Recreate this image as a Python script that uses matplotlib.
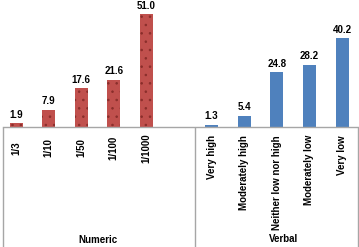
import numpy as np
import matplotlib
matplotlib.use("Agg")
import matplotlib.pyplot as plt
from matplotlib.transforms import blended_transform_factory

# data
numeric_labels = ["1/3", "1/10", "1/50", "1/100", "1/1000"]
numeric_values = [1.9, 7.9, 17.6, 21.6, 51.0]
verbal_labels = ["Very high", "Moderately high", "Neither low nor high", "Moderately low", "Very low"]
verbal_values = [1.3, 5.4, 24.8, 28.2, 40.2]
group_names = ["Numeric", "Verbal"]

RED = "#C0504D"
BLUE = "#4F81BD"
FONT = "Liberation Sans"

plt.rcParams["hatch.linewidth"] = 0.6

W, H = 359, 247
fig = plt.figure(figsize=(W / 100, H / 100), dpi=100)
base_px = 127.5
ax = fig.add_axes([3 / W, (H - base_px) / H, 356 / W, base_px / H])

# numeric group takes slots 0-5 (slot 5 left empty), verbal slots 6-10
x_num = np.arange(len(numeric_values))
x_verb = np.arange(len(verbal_values)) + 6

ax.bar(x_num, numeric_values, width=0.4, color=RED, edgecolor="#8A2E2B",
       linewidth=0, hatch="..")
ax.bar(x_verb, verbal_values, width=0.4, color=BLUE, linewidth=0)

for x, v in zip(list(x_num) + list(x_verb), numeric_values + verbal_values):
    ax.text(x, v + 1.6, f"{v:.1f}", ha="center", va="bottom", fontsize=7,
            fontweight="bold", family=FONT)

ax.set_xlim(-0.4, 10.52)
ax.set_ylim(0, base_px / 2.22)
ax.set_xticks([])
ax.set_yticks([])
for s in ["left", "right", "top"]:
    ax.spines[s].set_visible(False)
ax.spines["bottom"].set_color("#A6A6A6")
ax.spines["bottom"].set_linewidth(1.0)

tr = blended_transform_factory(ax.transData, fig.transFigure)
for x, lab in zip(x_num, numeric_labels):
    ax.text(x, 1 - 148 / H, lab, transform=tr, rotation=90, ha="center", va="center",
            fontsize=7, fontweight="bold", family=FONT)
for x, lab in zip(x_verb, verbal_labels):
    ax.text(x, 1 - 135 / H, lab, transform=tr, rotation=90, ha="center", va="top",
            fontsize=7, fontweight="bold", family=FONT)

ax.text(2.5, 1 - 240 / H, group_names[0], transform=tr, ha="center", va="center",
        fontsize=7, fontweight="bold", family=FONT)
ax.text(8.2, 1 - 239 / H, group_names[1], transform=tr, ha="center", va="center",
        fontsize=7, fontweight="bold", family=FONT)

# group divider lines below the axis
for xd in [-0.4, 5.5, 10.48]:
    ax.plot([xd, xd], [1 - base_px / H, 0], transform=tr, color="#A6A6A6",
            linewidth=1.0, clip_on=False)

fig.savefig("out.png", dpi=100)
